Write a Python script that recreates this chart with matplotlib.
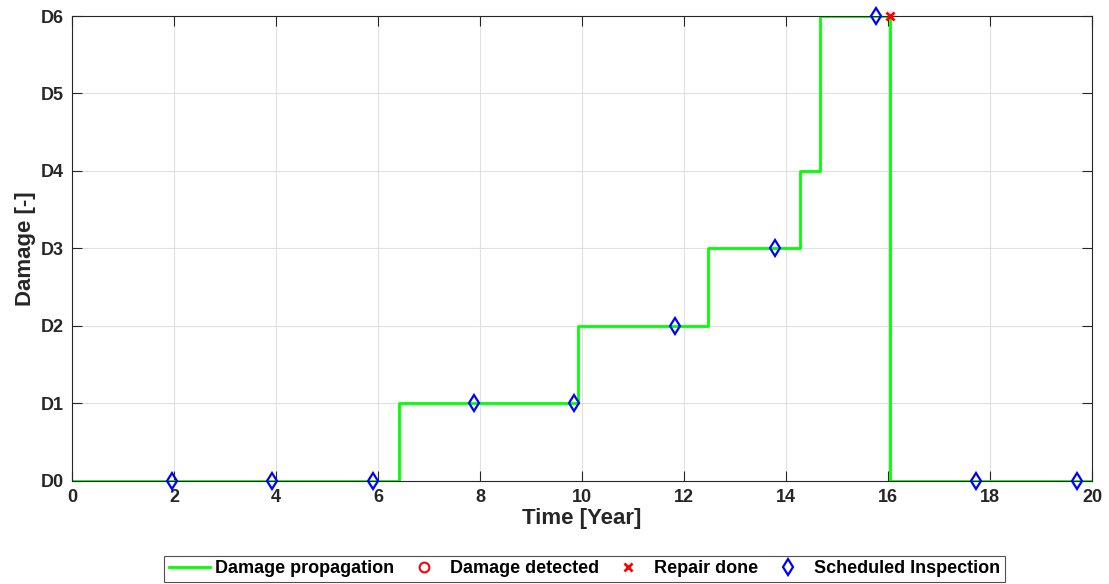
import numpy as np
import matplotlib.pyplot as plt

plt.rcParams['font.family'] = ['Liberation Sans', 'DejaVu Sans']
plt.rcParams['font.weight'] = 'bold'
plt.rcParams['axes.labelweight'] = 'bold'

# damage state history (step changes)
step_time = [0, 6.41, 9.92, 12.47, 14.27, 14.67, 16.04, 20]
step_level = [0, 1, 2, 3, 4, 6, 0, 0]

# scheduled inspections
insp_time = [1.96, 3.92, 5.90, 7.88, 9.85, 11.82, 13.79, 15.76, 17.73, 19.70]
insp_level = [0, 0, 0, 1, 1, 2, 3, 6, 0, 0]

# repair
repair_time = [16.04]
repair_level = [6]

# damage detected (none)
detect_time = []
detect_level = []

ytick_labels = ["D0", "D1", "D2", "D3", "D4", "D5", "D6"]

fig = plt.figure(figsize=(11.09, 5.84), dpi=100)
ax = fig.add_axes([0.0649, 0.1764, 0.9198, 0.7962])

ax.step(step_time, step_level, where="post", color=(0, 1, 0), lw=2,
        label="Damage propagation")
ax.plot(detect_time, detect_level, "o", mfc="none", mec="red", mew=1.5,
        ms=7, label="Damage detected")
ax.plot(repair_time, repair_level, "x", color="red", mew=2, ms=6,
        label="Repair done", zorder=5, clip_on=False)
ax.plot(insp_time, insp_level, "d", mfc="none", mec="blue", mew=1.6,
        ms=8.5, label="Scheduled Inspection", zorder=4, clip_on=False)

ax.set_xlim(0, 20)
ax.set_ylim(0, 6)
ax.set_xticks(np.arange(0, 21, 2))
ax.set_yticks(range(7))
ax.set_yticklabels(ytick_labels)
ax.tick_params(direction="in", labelsize=13, top=True, right=True,
               color="#262626", length=7, pad=6, labelcolor="#262626")
for s in ax.spines.values():
    s.set_color("#262626")
    s.set_linewidth(0.8)
ax.grid(True, color="#e0e0e0", lw=0.8)
ax.set_axisbelow(True)

ax.set_xlabel("Time [Year]", fontsize=16, color="#262626", labelpad=1)
ax.set_ylabel("Damage [-]", fontsize=16, color="#262626")
ax.yaxis.set_label_coords(-0.035, 0.5)

leg = fig.legend(loc="center", bbox_to_anchor=(0.527, 0.0257), ncol=4,
                 fontsize=13, fancybox=False, edgecolor="#262626",
                 handlelength=2.27, columnspacing=0.5, handletextpad=0.3,
                 borderpad=0.25, borderaxespad=0)
leg.get_frame().set_linewidth(0.8)

fig.savefig("out.png", dpi=100)
